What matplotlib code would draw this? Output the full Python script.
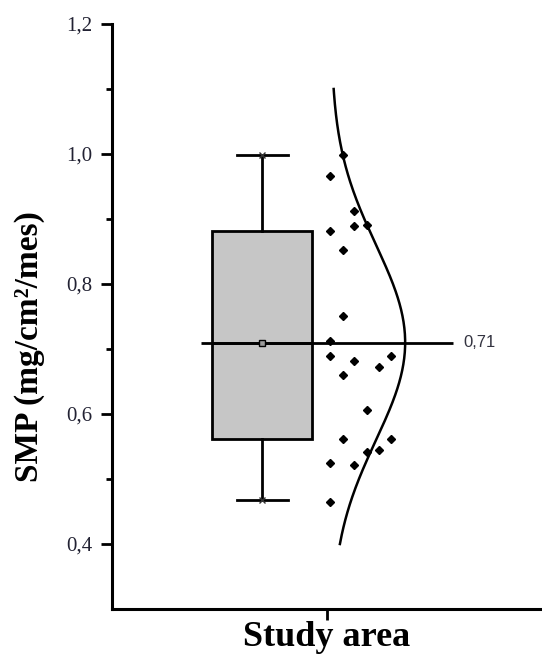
import numpy as np
import matplotlib
matplotlib.use("Agg")
import matplotlib.pyplot as plt

# ---- data ----
category = ["Study area"]
box_pos = 0.70
q1, q3 = 0.562, 0.882
whisker_lo, whisker_hi = 0.467, 0.998
mean_val = 0.71
mean_label = "0,71"

point_values = [0.999, 0.966, 0.912, 0.882, 0.890, 0.891, 0.852, 0.751, 0.713,
                0.689, 0.681, 0.689, 0.673, 0.660, 0.606, 0.561, 0.562, 0.541,
                0.545, 0.525, 0.522, 0.465]
point_x = [1.073, 1.015, 1.128, 1.015, 1.128, 1.188, 1.073, 1.073, 1.015,
           1.015, 1.128, 1.298, 1.242, 1.073, 1.188, 1.073, 1.298, 1.188,
           1.242, 1.015, 1.128, 1.015]

curve_sd = 0.15
curve_range = (0.40, 1.10)
curve_base = 1.02
curve_peak = 0.344

yticks = [0.4, 0.6, 0.8, 1.0, 1.2]
yticklabels = ["0,4", "0,6", "0,8", "1,0", "1,2"]
yminor = [0.5, 0.7, 0.9, 1.1]

# ---- figure ----
fig = plt.figure(figsize=(5.42, 6.61), dpi=100)
ax = fig.add_axes([111.7 / 542, 52 / 661, 1 - 111.7 / 542, 585 / 661])

serif = ["Liberation Serif", "DejaVu Serif"]

stats = [dict(med=mean_val, q1=q1, q3=q3, whislo=whisker_lo, whishi=whisker_hi,
              fliers=[], label=category[0])]
ax.bxp(stats, positions=[box_pos], widths=0.465, capwidths=0.237,
       showfliers=False, patch_artist=True,
       boxprops=dict(facecolor="#c6c6c6", edgecolor="black", linewidth=2.0),
       whiskerprops=dict(color="black", linewidth=2.0),
       capprops=dict(color="black", linewidth=2.0),
       medianprops=dict(color="black", linewidth=2.0))

# whisker end markers
ax.plot([box_pos, box_pos], [whisker_lo, whisker_hi], linestyle="none",
        marker="x", color="#333333", markersize=5, markeredgewidth=1.0, zorder=4)

# mean line across
ax.hlines(mean_val, 0.414, 1.588, color="black", linewidth=2.0, zorder=3)
ax.plot([box_pos], [mean_val], marker="s", markersize=5, markerfacecolor="#9a9a9a",
        markeredgecolor="black", markeredgewidth=1.0, zorder=5)
ax.text(1.633, mean_val, mean_label, fontsize=12, va="center", ha="left",
        family=["Liberation Sans", "DejaVu Sans"], color="#333340")

# data points
ax.plot(point_x, point_values, linestyle="none", marker="D", markersize=3.6,
        color="black", zorder=4)

# normal curve
v = np.linspace(curve_range[0], curve_range[1], 300)
cx = curve_base + curve_peak * np.exp(-(v - mean_val) ** 2 / (2 * curve_sd ** 2))
ax.plot(cx, v, color="black", linewidth=1.8, zorder=3)

# axes styling
ax.set_xlim(0, 2)
ax.set_ylim(0.3, 1.2)
ax.set_xticks([1])
ax.set_xticklabels(category, fontsize=26, family=serif, fontweight="bold")
ax.set_yticks(yticks)
ax.set_yticklabels(yticklabels, fontsize=15, family=serif, color="#222233")
ax.set_yticks(yminor, minor=True)
ax.tick_params(axis="y", which="major", length=8, width=2, pad=6)
ax.tick_params(axis="y", which="minor", length=4, width=2)
ax.tick_params(axis="x", which="major", length=8, width=2, pad=1)
for s in ["top", "right"]:
    ax.spines[s].set_visible(False)
for s in ["left", "bottom"]:
    ax.spines[s].set_linewidth(2.2)

fig.text(30 / 542, 1 - 347 / 661, "SMP (mg/cm\u00b2/mes)", rotation=90,
         fontsize=24, family=serif, fontweight="bold", ha="center", va="center")

fig.savefig("out.png", dpi=100)
